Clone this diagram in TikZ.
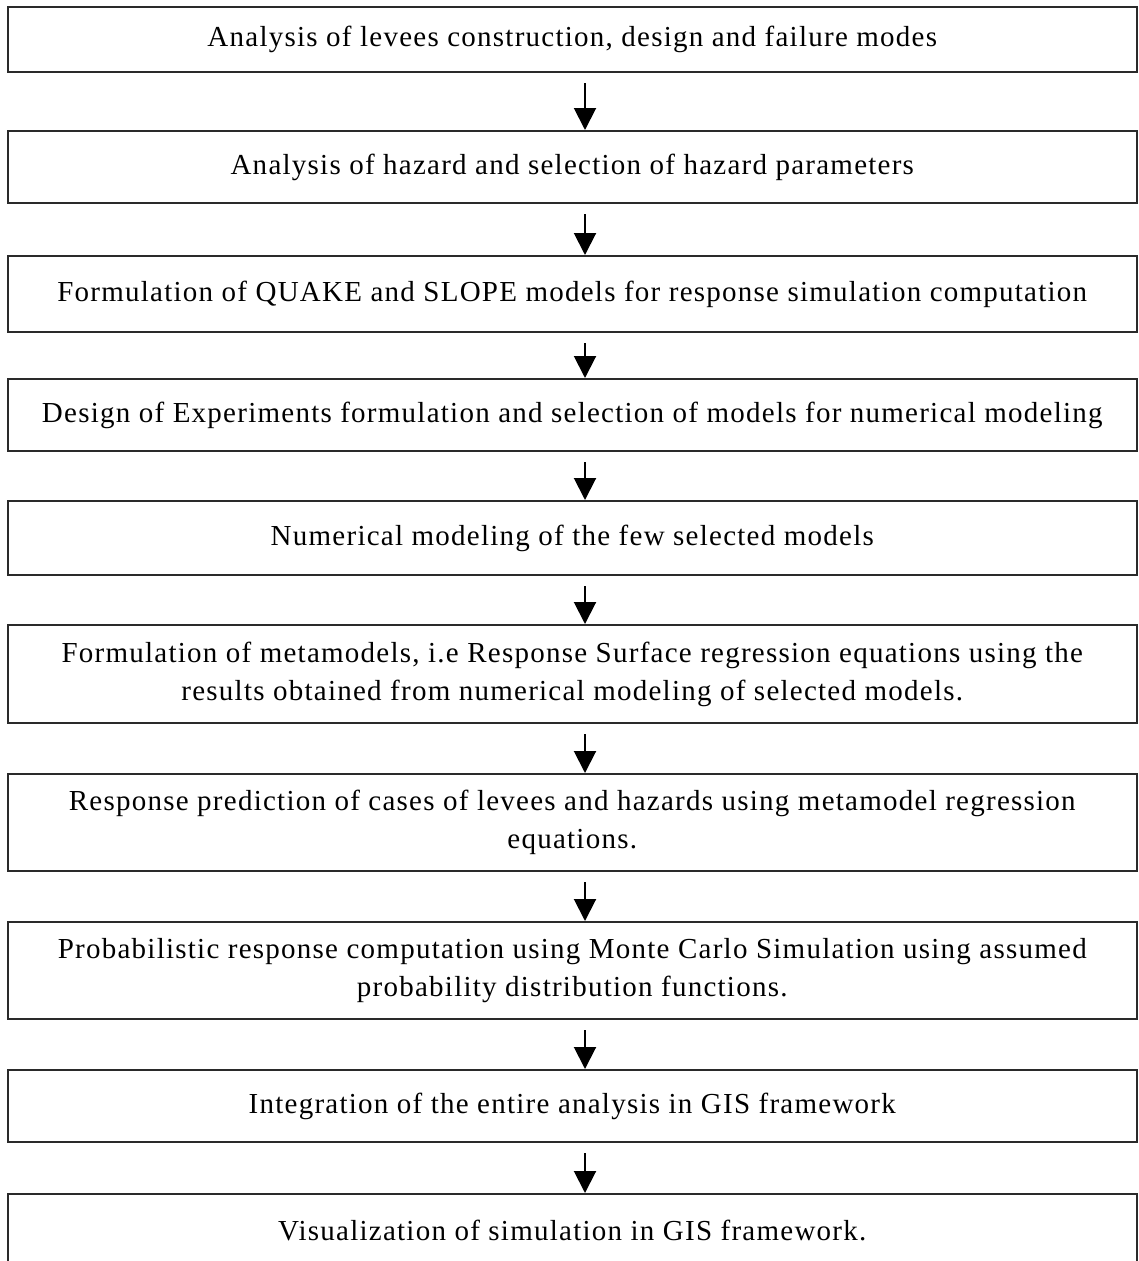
\documentclass[tikz,border=0pt]{standalone}
\usepackage{fontspec}
\setmainfont{Liberation Serif}[LetterSpace=4.3]
\usetikzlibrary{arrows.meta}
\definecolor{boxline}{HTML}{2A2A2A}
\begin{document}
\begin{tikzpicture}[x=1pt,y=-1pt,
  stepbox/.style={draw=boxline, line width=2pt, minimum width=1129.5pt, inner sep=0pt,
    align=center, font=\fontsize{29}{38}\selectfont, anchor=north},
  flow/.style={draw=black, line width=2pt, -{Triangle[width=22pt,length=22pt]}}]
\useasboundingbox (0,0) rectangle (1139,1261);
\clip (0,0) rectangle (1139,1261);
\fill[white] (0,0) rectangle (1139,1261);
\coordinate (ax) at (585,0);
\node[stepbox, minimum height=65pt] (b1) at (572.25,6) {Analysis of levees construction, design and failure modes};
\node[stepbox, minimum height=72pt] (b2) at (572.25,130) {Analysis of hazard and selection of hazard parameters};
\node[stepbox, minimum height=76pt] (b3) at (572.25,255) {Formulation of QUAKE and SLOPE models for response simulation computation};
\node[stepbox, minimum height=72pt] (b4) at (572.25,378) {Design of Experiments formulation and selection of models for numerical modeling};
\node[stepbox, minimum height=74pt] (b5) at (572.25,500) {Numerical modeling of the few selected models};
\node[stepbox, minimum height=98pt] (b6) at (572.25,624) {Formulation of metamodels, i.e Response Surface regression equations using the\\results obtained from numerical modeling of selected models.};
\node[stepbox, minimum height=97pt] (b7) at (572.25,773) {Response prediction of cases of levees and hazards using metamodel regression\\equations.};
\node[stepbox, minimum height=97pt] (b8) at (572.25,921) {Probabilistic response computation using Monte Carlo Simulation using assumed\\probability distribution functions.};
\node[stepbox, minimum height=72pt] (b9) at (572.25,1069) {Integration of the entire analysis in GIS framework};
\node[stepbox, minimum height=72pt] (b10) at (572.25,1193) {Visualization of simulation in GIS framework.};
\foreach \a/\b in {b1/b2,b2/b3,b3/b4,b4/b5,b5/b6,b6/b7,b7/b8,b8/b9,b9/b10}
  \draw[flow] (\a.south -| ax) ++(0,10) -- (\b.north -| ax);
\end{tikzpicture}
\end{document}
